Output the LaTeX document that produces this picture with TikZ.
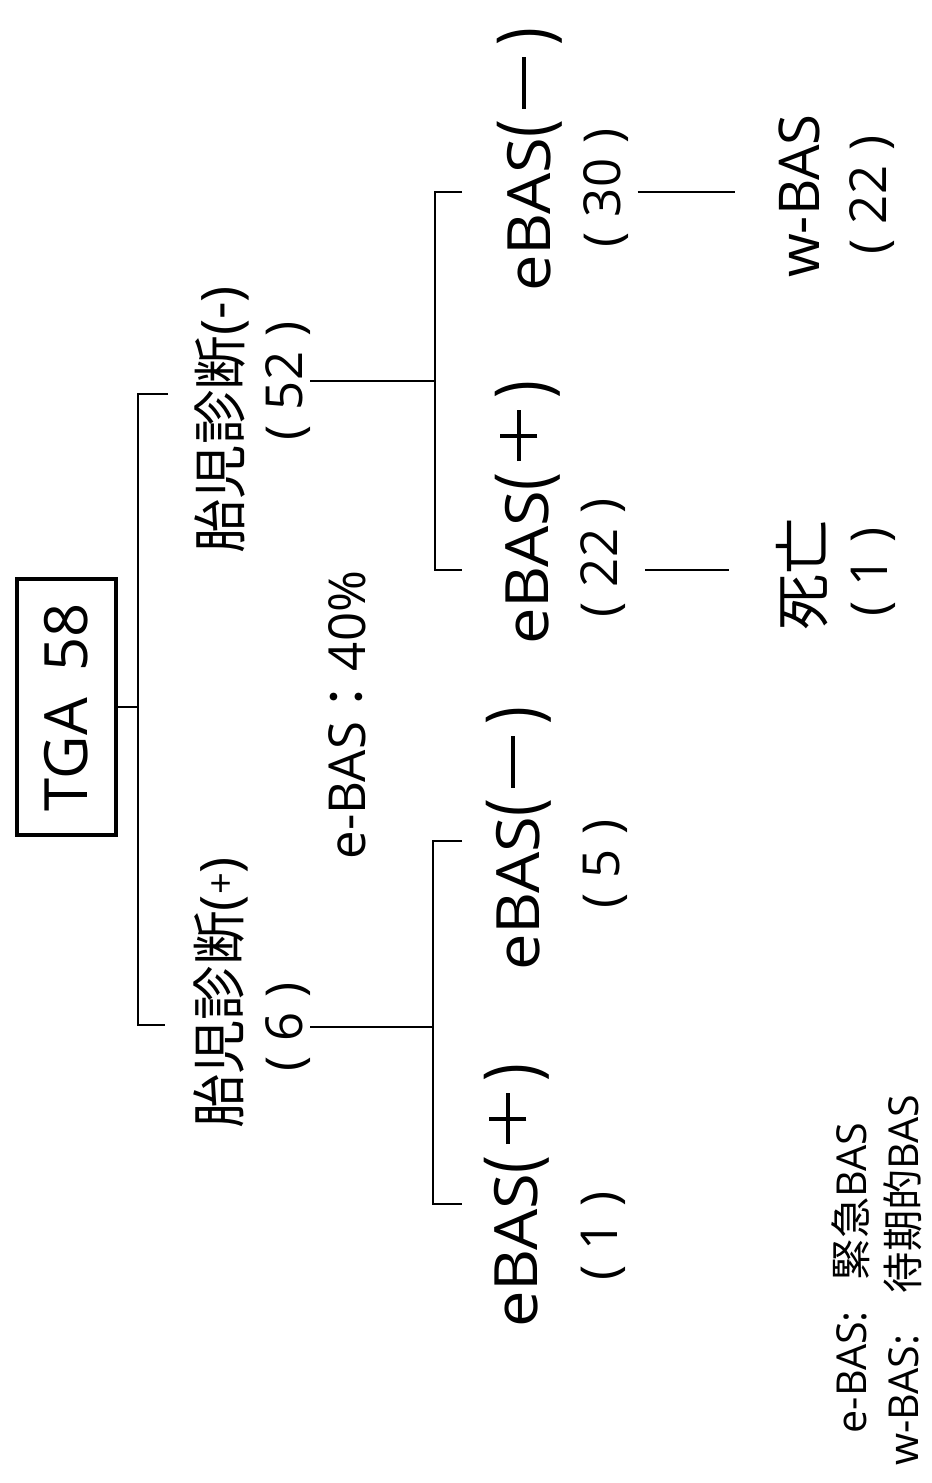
\documentclass[tikz,border=0pt]{standalone}
\usepackage{fontspec}
\usepackage{graphicx}
\setmainfont{Open Sans}
\newfontfamily\jp{Noto Sans CJK JP}
\newcommand{\BP}[1]{\scalebox{1}[1.25]{#1}}
\newcommand{\bigplus}{\makebox[1em]{\rule[0.47em]{0.85em}{0.065em}\kern-0.458em\rule[0.19em]{0.065em}{0.62em}\kern0.393em}}
\newcommand{\bigminus}{\makebox[1em]{\rule[0.42em]{0.87em}{0.065em}}}
\newcommand{\ebas}[1]{\scalebox{1.09}[1]{eBAS}\BP{(}\kern0.12em#1\kern0.12em\BP{)}}
\newcommand{\nlab}[1]{(\hspace{0.3em}#1\hspace{0.3em})}
\tikzset{
  lbl/.style={rotate=90, inner sep=0pt, outer sep=0pt},
  big/.style={lbl, font=\fontsize{34}{40}\selectfont},
  num/.style={lbl, font=\fontsize{29}{34}\selectfont},
  kan/.style={lbl, font=\fontsize{31}{36}\selectfont},
  mid/.style={lbl, font=\fontsize{32}{38}\selectfont},
  leg/.style={lbl, font=\fontsize{23.5}{28}\selectfont},
  tree/.style={line width=1.1pt, black}
}
\begin{document}
\begin{tikzpicture}[x=0.02cm, y=-0.02cm]
\useasboundingbox (0,0) rectangle (931,1483);
% root
\node[big, draw, line width=2.3pt, minimum width=5.13cm, minimum height=1.99cm] (tga) at (66.5,707) {TGA\hspace{0.45em}58\hspace{0.4cm}};
% first level
\node[kan] (dxm) at (222,420) {{\jp 胎児診断}(\raisebox{0.05em}{-})};
\node[num] (n52) at (288,381) {\nlab{52}};
\node[kan] (dxp) at (221,993) {{\jp 胎児診断}(\raisebox{0.09em}{\scalebox{0.7}{+}})};
\node[num] (n6) at (288,1027) {\nlab{6}};
\node[num] (rate) at (347,715) {e-BAS{\jp ：}40\%};
% right group
\node[big] (rm) at (530,160) {\ebas{\bigminus}};
\node[num] (n30) at (606,188) {\nlab{30}};
\node[big] (rp) at (528,513) {\ebas{\bigplus}};
\node[num] (n22a) at (603,558) {\nlab{22}};
\node[mid] (wbas) at (799,196) {w-BAS};
\node[num] (n22b) at (872,195) {\nlab{22}};
\node[mid] (death) at (802,574) {\jp 死亡};
\node[num] (n1a) at (873,572) {\nlab{1}};
% left group
\node[big] (lm) at (519,839) {\ebas{\bigminus}};
\node[num] (n5) at (605,864) {\nlab{5}};
\node[big] (lp) at (517,1196) {\ebas{\bigplus}};
\node[num] (n1b) at (603,1236) {\nlab{1}};
% legend
\node[leg] (lg1) at (851,1278) {e-BAS:\hspace{0.75em}{\jp 緊急}BAS};
\node[leg] (lg2) at (903,1280) {w-BAS:\hspace{1em}{\jp 待期的}BAS};
% junctions
\coordinate (j0t) at (138,394);
\coordinate (j0b) at (138,1025);
\coordinate (j1t) at (435,192);
\coordinate (j1b) at (435,570);
\coordinate (j2t) at (433,841);
\coordinate (j2b) at (433,1204);
% connectors
\draw[tree] (tga.south) -- (tga.south -| j0t);
\draw[tree] (j0t) ++(30,0) -- (j0t) -- (j0b) -- ++(27,0);
\draw[tree] (n52.south) -- (n52.south -| j1t);
\draw[tree] (j1t) ++(27,0) -- (j1t) -- (j1b) -- ++(27,0);
\draw[tree] (n6.south) -- (n6.south -| j2t);
\draw[tree] (j2t) ++(29,0) -- (j2t) -- (j2b) -- ++(29,0);
\draw[tree, shorten <=0.18cm, shorten >=0.87cm] (n30.south |- j1t) -- (wbas.north |- j1t);
\draw[tree, shorten <=0.4cm, shorten >=0.94cm] (n22a.south |- j1b) -- (death.north |- j1b);
\end{tikzpicture}
\end{document}
